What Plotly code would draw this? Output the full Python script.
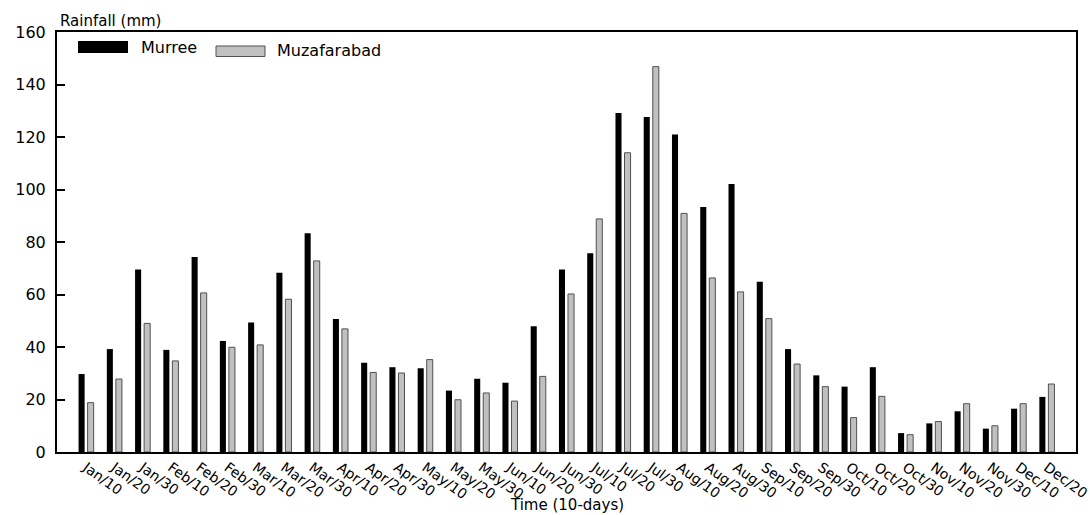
import plotly.graph_objects as go

# Ten-day rainfall periods
periods = [
    "Jan/10", "Jan/20", "Jan/30", "Feb/10", "Feb/20", "Feb/30",
    "Mar/10", "Mar/20", "Mar/30", "Apr/10", "Apr/20", "Apr/30",
    "May/10", "May/20", "May/30", "Jun/10", "Jun/20", "Jun/30",
    "Jul/10", "Jul/20", "Jul/30", "Aug/10", "Aug/20", "Aug/30",
    "Sep/10", "Sep/20", "Sep/30", "Oct/10", "Oct/20", "Oct/30",
    "Nov/10", "Nov/20", "Nov/30", "Dec/10", "Dec/20",
]

# Rainfall (mm) per ten-day period
murree = [
    29.7, 39.2, 69.5, 38.9, 74.3, 42.3,
    49.3, 68.3, 83.3, 50.7, 34.0, 32.3,
    31.9, 23.4, 27.9, 26.4, 47.9, 69.5,
    75.7, 129.1, 127.6, 121.0, 93.3, 102.1,
    64.9, 39.2, 29.2, 24.9, 32.3, 7.2,
    10.9, 15.5, 8.9, 16.5, 21.0,
]
muzafarabad = [
    18.8, 27.8, 49.0, 34.7, 60.6, 39.9,
    40.8, 58.2, 72.8, 46.9, 30.3, 30.1,
    35.2, 19.9, 22.5, 19.4, 28.8, 60.2,
    88.8, 114.0, 146.8, 90.9, 66.3, 61.0,
    50.8, 33.5, 24.9, 13.1, 21.2, 6.6,
    11.6, 18.4, 10.0, 18.4, 25.9,
]

y_ticks = [0, 20, 40, 60, 80, 100, 120, 140, 160]

FONT = "DejaVu Sans"
x_idx = list(range(len(periods)))

fig = go.Figure()
fig.add_trace(go.Bar(
    x=x_idx, y=murree, name="Murree",
    marker=dict(color="#000000", line=dict(color="#000000", width=0)),
))
fig.add_trace(go.Bar(
    x=x_idx, y=muzafarabad, name="Muzafarabad",
    marker=dict(color="#c0c0c0", line=dict(color="#505050", width=1)),
))

fig.update_layout(
    width=1090, height=515,
    margin=dict(l=57, r=14, t=32, b=63),
    paper_bgcolor="white", plot_bgcolor="white",
    barmode="group", bargap=0.36, bargroupgap=0.33,
    showlegend=False,
    font=dict(family=FONT, color="black", size=15),
)

fig.update_xaxes(
    range=[-1.03, 35.03], automargin=False,
    tickmode="array", tickvals=x_idx, ticktext=periods,
    tickangle=36, ticks="", showgrid=False, zeroline=False,
    showline=True, linecolor="black", linewidth=2, mirror=True,
    tickfont=dict(family=FONT, size=14), ticklabeloverflow="allow",
)
fig.update_yaxes(
    range=[0, 160], automargin=False, tickmode="array", tickvals=y_ticks,
    ticks="inside", ticklen=8, tickwidth=1.5, tickcolor="black",
    showgrid=False, zeroline=False,
    showline=True, linecolor="black", linewidth=2, mirror=True,
    tickfont=dict(family=FONT, size=16), ticklabelstandoff=6,
)

def px_x(px):
    return (px - 57) / 1019.0

def px_y(py):
    return (452 - py) / 420.0

# Legend swatches
fig.add_shape(type="rect", xref="paper", yref="paper",
              x0=px_x(78), x1=px_x(128), y0=px_y(53), y1=px_y(41),
              fillcolor="#000000", line=dict(width=0))
fig.add_shape(type="rect", xref="paper", yref="paper",
              x0=px_x(216), x1=px_x(265), y0=px_y(56.5), y1=px_y(46),
              fillcolor="#c0c0c0", line=dict(color="#505050", width=1))

annotations = [
    dict(text="Murree", x=px_x(139), y=px_y(48), xanchor="left", yanchor="middle",
         font=dict(size=16)),
    dict(text="Muzafarabad", x=px_x(275), y=px_y(51), xanchor="left", yanchor="middle",
         font=dict(size=16)),
    dict(text="Rainfall (mm)", x=px_x(58), y=px_y(21), xanchor="left", yanchor="middle",
         font=dict(size=15)),
    dict(text="Time (10-days)", x=0.5, y=px_y(505), xanchor="center", yanchor="middle",
         font=dict(size=15)),
]
for a in annotations:
    fig.add_annotation(xref="paper", yref="paper", showarrow=False, **a)

fig.write_html("out.html")
